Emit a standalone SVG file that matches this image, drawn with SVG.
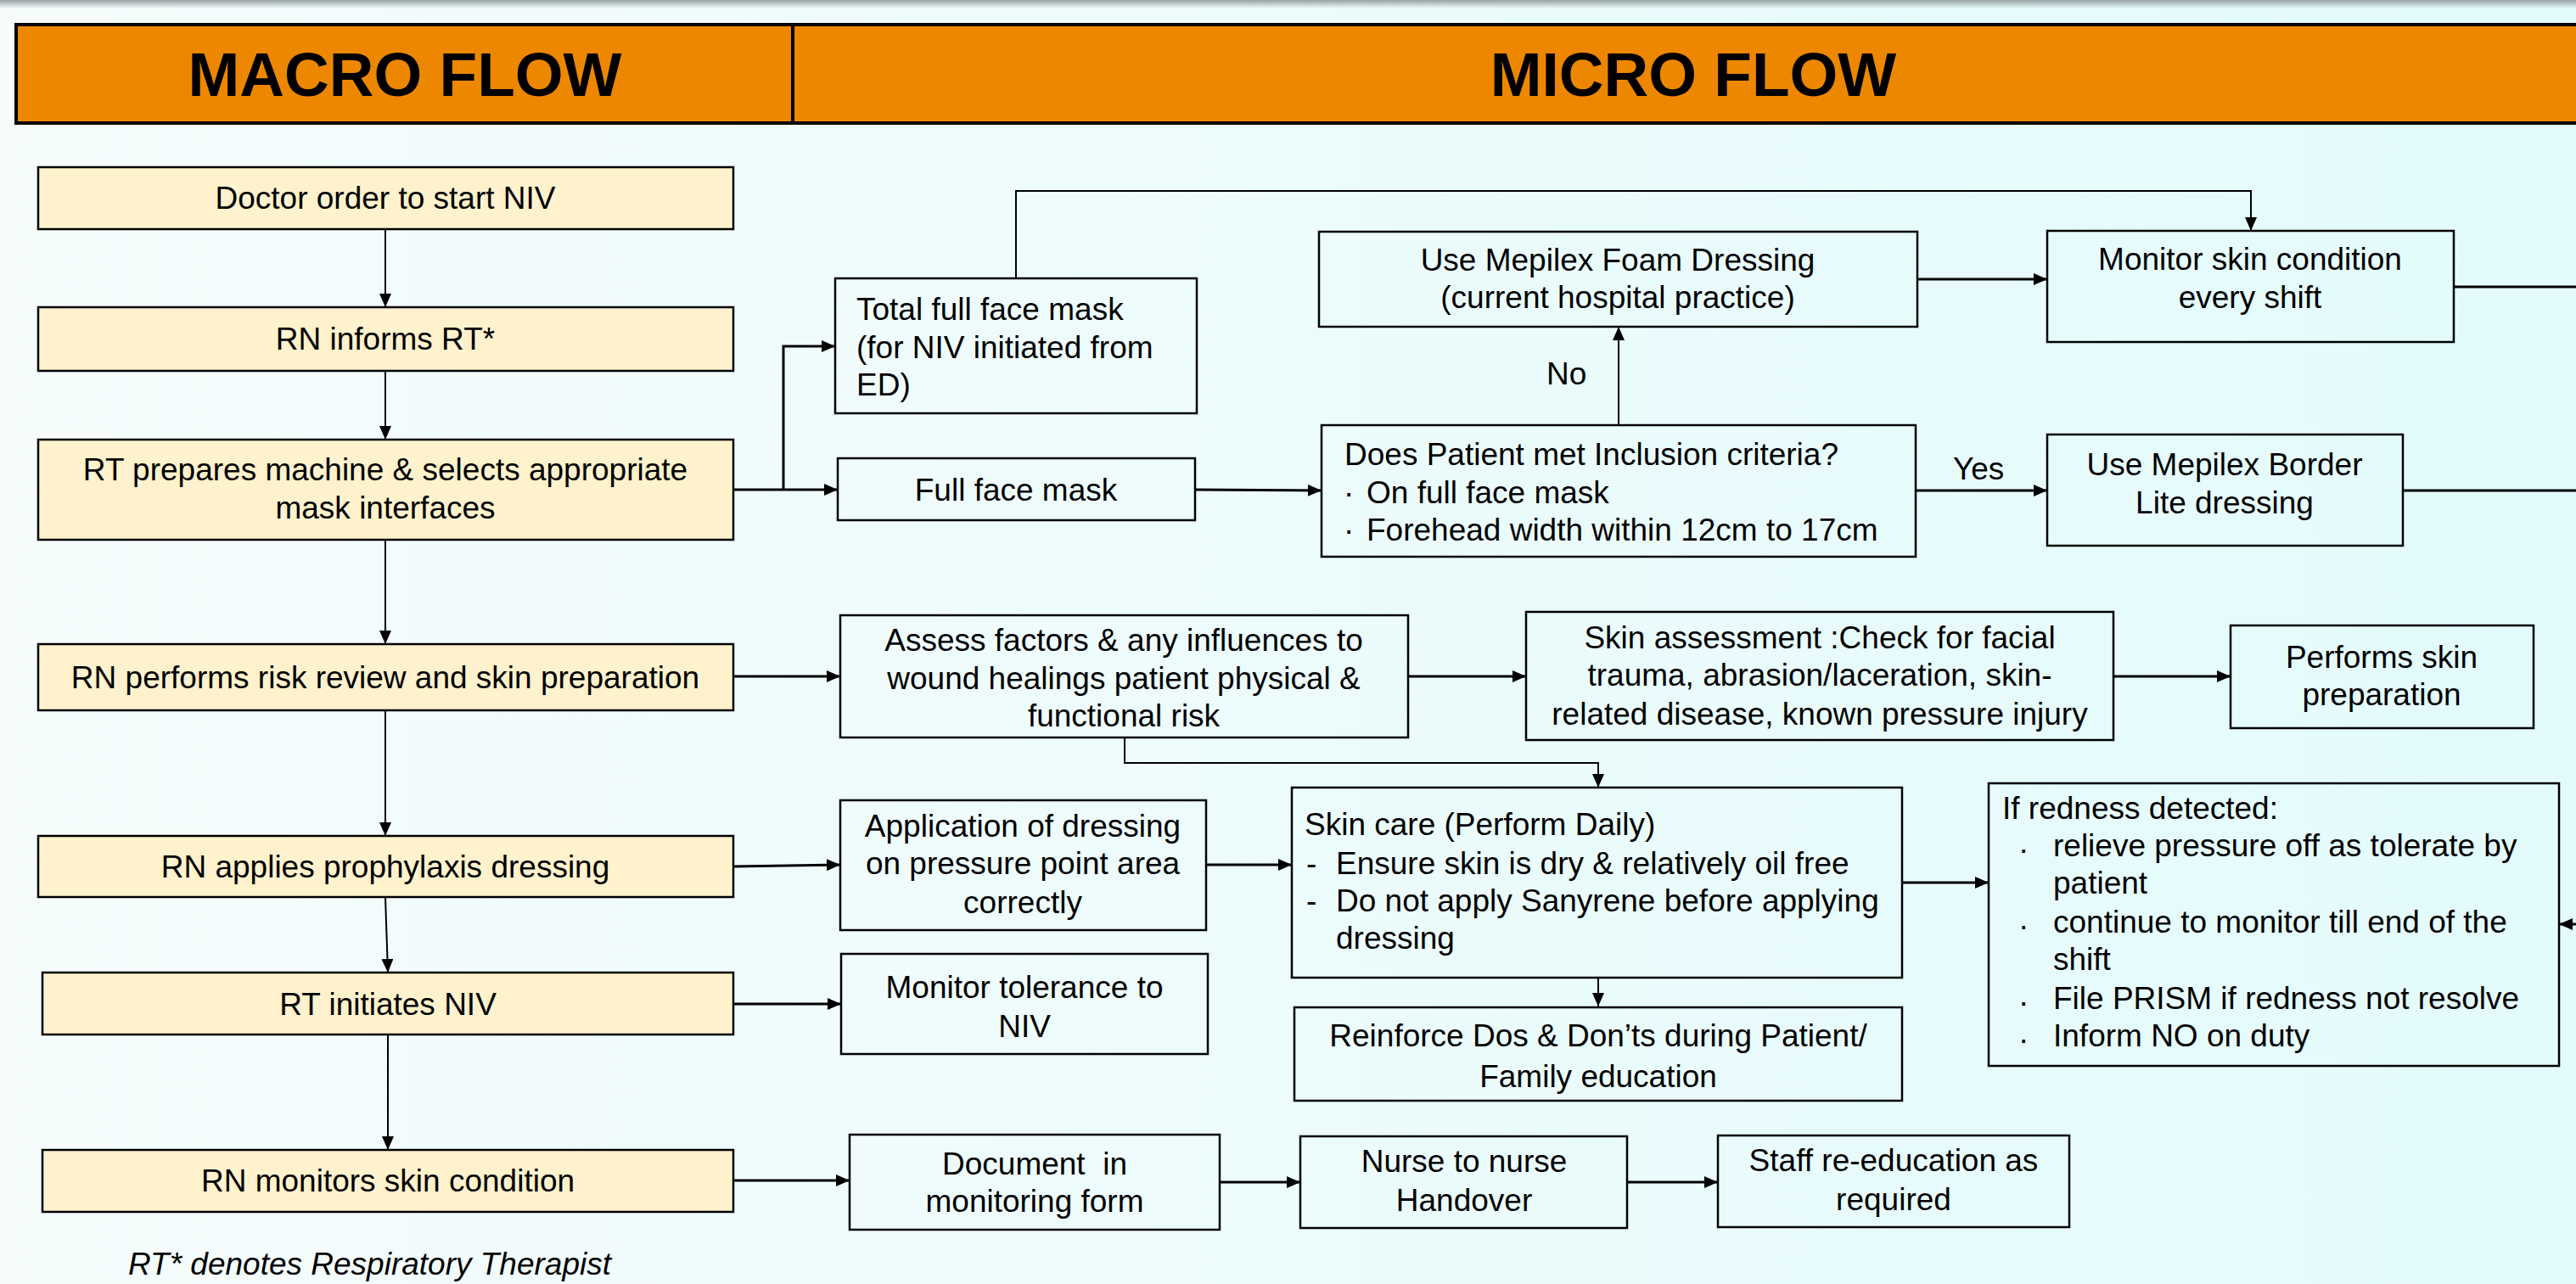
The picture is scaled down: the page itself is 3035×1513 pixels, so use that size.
<svg xmlns="http://www.w3.org/2000/svg" width="3035" height="1513" viewBox="0 0 3035 1513">
<defs>
<linearGradient id="bg" x1="0" y1="0" x2="1" y2="0">
<stop offset="0" stop-color="#F6FCFC"/>
<stop offset="1" stop-color="#E3FBFC"/>
</linearGradient>
<linearGradient id="sh" x1="0" y1="0" x2="0" y2="1">
<stop offset="0" stop-color="#97A3A4"/>
<stop offset="1" stop-color="#97A3A4" stop-opacity="0"/>
</linearGradient>
<marker id="ah" viewBox="0 0 16 14" refX="16" refY="7" markerWidth="16" markerHeight="14" markerUnits="userSpaceOnUse" orient="auto">
<path d="M0,0 L16,7 L0,14 z" fill="#000"/>
</marker>
<style>
text{font-family:"Liberation Sans",Arial,sans-serif;font-size:37px;fill:#000}
.h{font-size:73px;font-weight:bold}
.m{fill:#FFF2CC;stroke:#000;stroke-width:2.5}
.b{fill:none;stroke:#000;stroke-width:2.5}
.c{fill:none;stroke:#000;stroke-width:3;marker-end:url(#ah)}
.v{fill:none;stroke:#000;stroke-width:2;marker-end:url(#ah)}
.mid{text-anchor:middle}
.it{font-style:italic}
</style>
</defs>
<rect x="0" y="0" width="3035" height="1513" fill="url(#bg)"/>
<rect x="0" y="0" width="3035" height="10" fill="url(#sh)"/>

<g id="header">
<rect x="19" y="29" width="3030" height="116" fill="#EE8700" stroke="#000" stroke-width="4"/>
<line x1="934" y1="29" x2="934" y2="145" stroke="#000" stroke-width="4"/>
<text class="h mid" x="477" y="113">MACRO FLOW</text>
<text class="h mid" x="1995" y="113">MICRO FLOW</text>
</g>

<g id="connectors">
<path class="v" d="M454,270 V362"/>
<path class="v" d="M454,437 V518"/>
<path class="v" d="M454,636 V759"/>
<path class="v" d="M454,837 V985"/>
<path class="v" d="M454,1057 L457,1146"/>
<path class="v" d="M457,1219 V1355"/>
<path class="c" d="M864,577 H987"/>
<path class="c" d="M923,577 V408 H984"/>
<path class="c" d="M1408,577 L1557,578"/>
<path class="v" d="M1907,501 V385"/>
<path class="v" d="M1197,328 V225 H2652 V272"/>
<path class="c" d="M2259,329 H2412"/>
<path class="b" d="M2891,338 H3035" style="stroke-width:3"/>
<path class="c" d="M2257,578 H2412"/>
<path class="b" d="M2831,578 H3035" style="stroke-width:3"/>
<path class="c" d="M864,797 H990"/>
<path class="c" d="M1659,797 H1798"/>
<path class="c" d="M2490,797 H2628"/>
<path class="v" d="M1325,869 V899 H1883 V928"/>
<path class="c" d="M864,1021 L990,1019"/>
<path class="c" d="M1421,1019 H1522"/>
<path class="c" d="M2241,1040 H2343"/>
<path class="v" d="M1883,1152 V1186"/>
<path class="c" d="M864,1183 H991"/>
<path class="c" d="M3040,1089 H3015"/>
<path class="c" d="M864,1391 H1001"/>
<path class="c" d="M1437,1393 H1532"/>
<path class="c" d="M1917,1393 H2024"/>
<text x="1822" y="453">No</text>
<text x="2301" y="565">Yes</text>
</g>

<g id="n1"><rect class="m" x="45" y="197" width="819" height="73"/><text class="mid" x="454" y="246">Doctor order to start NIV</text></g>
<g id="n2"><rect class="m" x="45" y="362" width="819" height="75"/><text class="mid" x="454" y="412">RN informs RT*</text></g>
<g id="n3"><rect class="m" x="45" y="518" width="819" height="118"/><text class="mid" x="454" y="566">RT prepares machine &amp; selects appropriate</text><text class="mid" x="454" y="611">mask interfaces</text></g>
<g id="n4"><rect class="m" x="45" y="759" width="819" height="78"/><text class="mid" x="454" y="811">RN performs risk review and skin preparation</text></g>
<g id="n5"><rect class="m" x="45" y="985" width="819" height="72"/><text class="mid" x="454" y="1034">RN applies prophylaxis dressing</text></g>
<g id="n6"><rect class="m" x="50" y="1146" width="814" height="73"/><text class="mid" x="457" y="1196">RT initiates NIV</text></g>
<g id="n7"><rect class="m" x="50" y="1355" width="814" height="73"/><text class="mid" x="457" y="1404">RN monitors skin condition</text></g>
<g id="footnote"><text class="it" x="151" y="1502">RT* denotes Respiratory Therapist</text></g>

<g id="total-mask"><rect class="b" x="984" y="328" width="426" height="159"/><text x="1009" y="377">Total full face mask</text><text x="1009" y="422">(for NIV initiated from</text><text x="1009" y="466">ED)</text></g>
<g id="full-mask"><rect class="b" x="987" y="540" width="421" height="73"/><text class="mid" x="1197" y="590">Full face mask</text></g>
<g id="foam"><rect class="b" x="1554" y="273" width="705" height="112"/><text class="mid" x="1906" y="319">Use Mepilex Foam Dressing</text><text class="mid" x="1906" y="363">(current hospital practice)</text></g>
<g id="criteria"><rect class="b" x="1557" y="501" width="700" height="155"/><text x="1584" y="548">Does Patient met Inclusion criteria?</text><text x="1583" y="593">·</text><text x="1610" y="593">On full face mask</text><text x="1583" y="637">·</text><text x="1610" y="637">Forehead width within 12cm to 17cm</text></g>
<g id="monitor-shift"><rect class="b" x="2412" y="272" width="479" height="131"/><text class="mid" x="2651" y="318">Monitor skin condition</text><text class="mid" x="2651" y="363">every shift</text></g>
<g id="border-lite"><rect class="b" x="2412" y="512" width="419" height="131"/><text class="mid" x="2621" y="560">Use Mepilex Border</text><text class="mid" x="2621" y="605">Lite dressing</text></g>
<g id="assess"><rect class="b" x="990" y="725" width="669" height="144"/><text class="mid" x="1324" y="767">Assess factors &amp; any influences to</text><text class="mid" x="1324" y="812">wound healings patient physical &amp;</text><text class="mid" x="1324" y="856">functional risk</text></g>
<g id="skin-assessment"><rect class="b" x="1798" y="721" width="692" height="151"/><text class="mid" x="2144" y="764">Skin assessment :Check for facial</text><text class="mid" x="2144" y="808">trauma, abrasion/laceration, skin-</text><text class="mid" x="2144" y="854">related disease, known pressure injury</text></g>
<g id="skin-prep"><rect class="b" x="2628" y="737" width="357" height="121"/><text class="mid" x="2806" y="787">Performs skin</text><text class="mid" x="2806" y="831">preparation</text></g>
<g id="application"><rect class="b" x="990" y="943" width="431" height="153"/><text class="mid" x="1205" y="986">Application of dressing</text><text class="mid" x="1205" y="1030">on pressure point area</text><text class="mid" x="1205" y="1076">correctly</text></g>
<g id="skin-care"><rect class="b" x="1522" y="928" width="719" height="224"/><text x="1537" y="984">Skin care (Perform Daily)</text><text x="1539" y="1030">-</text><text x="1574" y="1030">Ensure skin is dry &amp; relatively oil free</text><text x="1539" y="1074">-</text><text x="1574" y="1074">Do not apply Sanyrene before applying</text><text x="1574" y="1118">dressing</text></g>
<g id="tolerance"><rect class="b" x="991" y="1124" width="432" height="118"/><text class="mid" x="1207" y="1176">Monitor tolerance to</text><text class="mid" x="1207" y="1222">NIV</text></g>
<g id="reinforce"><rect class="b" x="1525" y="1187" width="716" height="110"/><text class="mid" x="1883" y="1233">Reinforce Dos &amp; Don’ts during Patient/</text><text class="mid" x="1883" y="1281">Family education</text></g>
<g id="redness"><rect class="b" x="2343" y="923" width="672" height="333"/><text x="2359" y="965">If redness detected:</text>
<text x="2378" y="1013">·</text><text x="2419" y="1009">relieve pressure off as tolerate by</text><text x="2419" y="1053">patient</text>
<text x="2378" y="1103">·</text><text x="2419" y="1099">continue to monitor till end of the</text><text x="2419" y="1143">shift</text>
<text x="2378" y="1193">·</text><text x="2419" y="1189">File PRISM if redness not resolve</text>
<text x="2378" y="1237">·</text><text x="2419" y="1233">Inform NO on duty</text></g>
<g id="document"><rect class="b" x="1001" y="1337" width="436" height="112"/><text class="mid" x="1219" y="1384" xml:space="preserve">Document  in</text><text class="mid" x="1219" y="1428">monitoring form</text></g>
<g id="handover"><rect class="b" x="1532" y="1339" width="385" height="108"/><text class="mid" x="1725" y="1381">Nurse to nurse</text><text class="mid" x="1725" y="1427">Handover</text></g>
<g id="reeducation"><rect class="b" x="2024" y="1338" width="414" height="108"/><text class="mid" x="2231" y="1380">Staff re-education as</text><text class="mid" x="2231" y="1426">required</text></g>
</svg>
